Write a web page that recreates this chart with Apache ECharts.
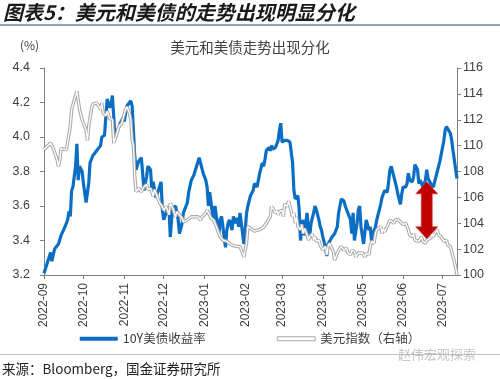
<!DOCTYPE html>
<html><head><meta charset="utf-8">
<script src="https://cdn.jsdelivr.net/npm/echarts@6/dist/echarts.min.js"></script>
<style>html,body{margin:0;padding:0;background:#fff}#c{width:500px;height:380px}</style>
</head><body><div id="c"></div>
<script>
// ---- data ----
const startDate = '2022-09-01';
const endDate = '2023-07-12';
const yLeftTicks = [3.2, 4.4, 0.2];   // min, max, step
const yRightTicks = [100, 116, 2];

// 10Y US Treasury yield (%), left axis
const ust10y = [
['2022-09-01',3.21],['2022-09-06',3.33],['2022-09-07',3.28],['2022-09-09',3.35],['2022-09-12',3.38],['2022-09-14',3.43],
['2022-09-17',3.48],['2022-09-19',3.52],['2022-09-20',3.57],['2022-09-21',3.54],['2022-09-22',3.69],['2022-09-23',3.71],
['2022-09-25',3.83],['2022-09-26',3.96],['2022-09-27',3.75],['2022-09-28',3.83],['2022-09-30',3.80],['2022-10-01',3.73],
['2022-10-03',3.62],['2022-10-05',3.73],['2022-10-06',3.85],['2022-10-08',3.89],['2022-10-11',3.92],['2022-10-14',3.95],
['2022-10-15',4.00],['2022-10-17',4.01],['2022-10-19',4.22],['2022-10-20',4.23],['2022-10-21',4.17],['2022-10-22',4.19],
['2022-10-23',4.24],['2022-10-24',4.12],['2022-10-25',3.99],['2022-10-27',4.04],['2022-10-29',4.08],['2022-10-31',4.11],
['2022-11-01',4.09],['2022-11-03',4.18],['2022-11-06',4.21],['2022-11-07',4.18],['2022-11-09',3.89],['2022-11-10',3.81],
['2022-11-12',3.86],['2022-11-14',3.88],['2022-11-15',3.79],['2022-11-16',3.69],['2022-11-18',3.77],['2022-11-19',3.83],
['2022-11-21',3.81],['2022-11-22',3.69],['2022-11-23',3.74],['2022-11-25',3.65],['2022-11-27',3.69],['2022-11-29',3.74],
['2022-11-30',3.58],['2022-12-01',3.52],['2022-12-03',3.56],['2022-12-05',3.60],['2022-12-06',3.42],['2022-12-07',3.52],
['2022-12-08',3.59],['2022-12-10',3.60],['2022-12-11',3.56],['2022-12-12',3.52],['2022-12-13',3.44],['2022-12-15',3.50],
['2022-12-16',3.56],['2022-12-19',3.62],['2022-12-20',3.68],['2022-12-22',3.75],['2022-12-24',3.78],['2022-12-26',3.83],
['2022-12-28',3.88],['2022-12-29',3.85],['2022-12-31',3.79],['2023-01-02',3.75],['2023-01-03',3.71],['2023-01-04',3.60],
['2023-01-05',3.68],['2023-01-07',3.56],['2023-01-08',3.52],['2023-01-09',3.60],['2023-01-10',3.54],['2023-01-12',3.44],
['2023-01-13',3.52],['2023-01-14',3.54],['2023-01-15',3.48],['2023-01-17',3.36],['2023-01-18',3.46],['2023-01-19',3.50],
['2023-01-20',3.52],['2023-01-22',3.46],['2023-01-23',3.54],['2023-01-24',3.50],['2023-01-26',3.53],['2023-01-27',3.48],
['2023-01-28',3.56],['2023-01-29',3.50],['2023-01-31',3.38],['2023-02-01',3.46],['2023-02-02',3.56],['2023-02-03',3.60],
['2023-02-05',3.66],['2023-02-06',3.65],['2023-02-07',3.69],['2023-02-08',3.73],['2023-02-10',3.71],['2023-02-11',3.75],
['2023-02-12',3.79],['2023-02-14',3.85],['2023-02-15',3.83],['2023-02-16',3.87],['2023-02-17',3.92],['2023-02-19',3.94],
['2023-02-20',3.92],['2023-02-21',3.95],['2023-02-22',3.93],['2023-02-24',3.94],['2023-02-25',3.95],['2023-02-26',3.98],
['2023-02-27',4.04],['2023-02-28',4.08],['2023-03-01',3.97],['2023-03-03',3.98],['2023-03-05',3.98],['2023-03-07',3.97],
['2023-03-08',3.97],['2023-03-09',3.85],['2023-03-10',3.69],['2023-03-11',3.64],['2023-03-13',3.66],['2023-03-14',3.58],
['2023-03-15',3.40],['2023-03-16',3.47],['2023-03-17',3.52],['2023-03-18',3.43],['2023-03-20',3.56],['2023-03-21',3.47],
['2023-03-22',3.42],['2023-03-23',3.50],['2023-03-25',3.56],['2023-03-26',3.60],['2023-03-27',3.58],['2023-03-29',3.52],
['2023-03-30',3.48],['2023-03-31',3.46],['2023-04-01',3.42],['2023-04-03',3.36],['2023-04-04',3.31],['2023-04-05',3.38],
['2023-04-06',3.39],['2023-04-08',3.42],['2023-04-09',3.43],['2023-04-10',3.44],['2023-04-12',3.48],['2023-04-13',3.56],
['2023-04-14',3.60],['2023-04-15',3.64],['2023-04-17',3.63],['2023-04-18',3.60],['2023-04-19',3.58],['2023-04-20',3.56],
['2023-04-22',3.52],['2023-04-23',3.44],['2023-04-24',3.56],['2023-04-25',3.40],['2023-04-27',3.50],['2023-04-28',3.58],
['2023-04-29',3.60],['2023-04-30',3.48],['2023-05-02',3.38],['2023-05-03',3.45],['2023-05-04',3.52],['2023-05-06',3.46],
['2023-05-07',3.48],['2023-05-08',3.40],['2023-05-09',3.44],['2023-05-11',3.48],['2023-05-12',3.52],['2023-05-13',3.55],
['2023-05-15',3.61],['2023-05-16',3.65],['2023-05-17',3.67],['2023-05-18',3.69],['2023-05-20',3.68],['2023-05-21',3.74],
['2023-05-22',3.81],['2023-05-23',3.83],['2023-05-25',3.77],['2023-05-26',3.74],['2023-05-27',3.71],['2023-05-28',3.67],
['2023-05-30',3.61],['2023-05-31',3.67],['2023-06-01',3.71],['2023-06-03',3.71],['2023-06-04',3.73],['2023-06-05',3.79],
['2023-06-06',3.75],['2023-06-08',3.74],['2023-06-09',3.77],['2023-06-10',3.84],['2023-06-12',3.81],['2023-06-13',3.73],
['2023-06-14',3.75],['2023-06-15',3.74],['2023-06-16',3.71],['2023-06-18',3.75],['2023-06-19',3.81],['2023-06-20',3.76],
['2023-06-22',3.73],['2023-06-23',3.74],['2023-06-24',3.71],['2023-06-25',3.71],['2023-06-27',3.80],['2023-06-28',3.83],
['2023-06-29',3.86],['2023-06-30',3.90],['2023-07-02',3.98],['2023-07-03',4.04],['2023-07-04',4.06],['2023-07-05',4.05],
['2023-07-07',4.02],['2023-07-08',3.98],['2023-07-09',3.92],['2023-07-11',3.81],['2023-07-12',3.76]
];

// US dollar index, right axis
const dxy = [
['2022-09-01',109.7],['2022-09-06',110.2],['2022-09-08',109.8],['2022-09-11',108.9],['2022-09-12',108.4],['2022-09-13',108.9],
['2022-09-14',109.8],['2022-09-16',109.7],['2022-09-18',109.7],['2022-09-19',109.8],['2022-09-21',111.5],['2022-09-22',112.8],
['2022-09-24',113.5],['2022-09-26',114.2],['2022-09-27',114.1],['2022-09-28',112.8],['2022-09-30',112.0],['2022-10-01',112.1],
['2022-10-03',111.2],['2022-10-04',110.4],['2022-10-05',111.5],['2022-10-07',112.8],['2022-10-08',113.2],['2022-10-11',113.3],
['2022-10-13',113.0],['2022-10-14',112.8],['2022-10-15',113.3],['2022-10-16',112.5],['2022-10-18',112.3],['2022-10-19',112.65],
['2022-10-21',112.1],['2022-10-23',112.0],['2022-10-24',110.2],['2022-10-26',110.8],['2022-10-28',111.5],['2022-10-30',111.7],
['2022-11-02',112.8],['2022-11-03',113.0],['2022-11-05',112.5],['2022-11-06',112.0],['2022-11-07',110.45],['2022-11-08',110.0],
['2022-11-09',107.6],['2022-11-10',106.45],['2022-11-12',106.7],['2022-11-14',106.45],['2022-11-16',106.8],['2022-11-18',107.0],
['2022-11-19',106.6],['2022-11-21',106.7],['2022-11-23',106.1],['2022-11-24',106.6],['2022-11-26',106.1],['2022-11-28',105.55],
['2022-11-30',105.3],['2022-12-01',105.0],['2022-12-03',105.3],['2022-12-05',104.65],['2022-12-06',105.55],['2022-12-08',105.15],
['2022-12-10',104.5],['2022-12-11',104.9],['2022-12-13',104.65],['2022-12-15',104.4],['2022-12-16',104.1],['2022-12-19',104.25],
['2022-12-20',104.4],['2022-12-22',104.5],['2022-12-24',104.5],['2022-12-25',104.65],['2022-12-27',104.5],['2022-12-29',104.25],
['2022-12-30',104.5],['2023-01-01',104.65],['2023-01-03',105.0],['2023-01-04',104.9],['2023-01-06',104.4],['2023-01-08',104.25],
['2023-01-10',103.75],['2023-01-12',103.2],['2023-01-13',102.95],['2023-01-15',102.7],['2023-01-18',102.6],['2023-01-20',102.45],
['2023-01-22',102.3],['2023-01-23',102.45],['2023-01-26',102.2],['2023-01-28',102.2],['2023-01-29',101.95],['2023-01-31',101.4],
['2023-02-01',101.95],['2023-02-02',102.45],['2023-02-03',103.75],['2023-02-05',103.6],['2023-02-08',103.4],['2023-02-12',103.5],
['2023-02-15',103.7],['2023-02-17',104.0],['2023-02-20',104.5],['2023-02-21',105.3],['2023-02-22',105.2],['2023-02-24',104.8],
['2023-02-25',105.0],['2023-02-26',104.65],['2023-02-27',104.9],['2023-03-01',105.0],['2023-03-02',104.5],['2023-03-03',105.5],
['2023-03-05',105.3],['2023-03-06',105.7],['2023-03-07',105.3],['2023-03-09',104.5],['2023-03-10',104.8],['2023-03-11',104.0],
['2023-03-12',104.5],['2023-03-13',103.75],['2023-03-15',103.5],['2023-03-16',103.9],['2023-03-17',103.2],['2023-03-18',103.6],
['2023-03-20',103.1],['2023-03-21',102.7],['2023-03-22',102.95],['2023-03-24',103.2],['2023-03-25',102.7],['2023-03-26',102.95],
['2023-03-27',102.6],['2023-03-29',102.7],['2023-03-30',102.3],['2023-03-31',102.2],['2023-04-01',101.95],['2023-04-03',102.2],
['2023-04-04',101.55],['2023-04-05',102.2],['2023-04-06',102.45],['2023-04-09',101.8],['2023-04-10',101.15],['2023-04-12',101.7],
['2023-04-13',101.9],['2023-04-15',102.2],['2023-04-17',101.9],['2023-04-18',101.8],['2023-04-19',102.1],['2023-04-20',101.7],
['2023-04-22',101.55],['2023-04-23',101.9],['2023-04-25',101.8],['2023-04-26',101.4],['2023-04-28',101.7],['2023-04-29',101.8],
['2023-05-01',101.7],['2023-05-03',101.4],['2023-05-04',101.7],['2023-05-06',101.55],['2023-05-07',102.2],['2023-05-08',102.6],
['2023-05-10',102.45],['2023-05-11',103.2],['2023-05-12',103.5],['2023-05-13',103.5],['2023-05-15',103.75],['2023-05-16',103.2],
['2023-05-17',103.6],['2023-05-18',103.35],['2023-05-20',103.75],['2023-05-21',104.0],['2023-05-22',104.25],['2023-05-23',104.1],
['2023-05-25',104.0],['2023-05-26',104.25],['2023-05-27',104.1],['2023-05-28',104.3],['2023-05-30',104.1],['2023-05-31',104.0],
['2023-06-01',103.9],['2023-06-03',104.0],['2023-06-04',103.75],['2023-06-05',103.5],['2023-06-06',103.1],['2023-06-08',102.95],
['2023-06-09',103.2],['2023-06-10',102.7],['2023-06-11',102.85],['2023-06-13',102.6],['2023-06-14',102.7],['2023-06-15',102.95],
['2023-06-16',102.6],['2023-06-18',102.45],['2023-06-19',102.7],['2023-06-20',102.6],['2023-06-22',102.85],['2023-06-23',103.2],
['2023-06-24',102.95],['2023-06-25',103.2],['2023-06-27',103.5],['2023-06-28',103.1],['2023-06-29',103.2],['2023-06-30',102.95],
['2023-07-02',102.6],['2023-07-03',102.45],['2023-07-04',102.7],['2023-07-05',102.3],['2023-07-07',102.2],['2023-07-08',101.8],
['2023-07-09',101.4],['2023-07-11',100.6],['2023-07-12',100.0]
];

// divergence arrow (date, from/to on left axis)
const arrowDate = '2023-06-19';
const arrowEnds = [3.41, 3.74];

const seriesNames = ['10Y美债收益率', '美元指数（右轴）'];
const chartTitle = '美元和美债走势出现分化';
const figureTitle = '图表5：美元和美债的走势出现明显分化';
const sourceText = '来源：Bloomberg，国金证券研究所';
const unitText = '(%)';
const watermark = '赵伟宏观探索';

// ---- build categories (every calendar day) ----
const categories = [];
(function(){
  let t = Date.parse(startDate + 'T00:00:00Z');
  const end = Date.parse(endDate + 'T00:00:00Z');
  while (t <= end) { categories.push(new Date(t).toISOString().slice(0,10)); t += 86400000; }
})();
const isMonthStart = (i, v) => v.slice(8) === '01';

const FONT = "'Liberation Sans','Noto Sans CJK SC',sans-serif";
const CJK = "'Noto Sans CJK SC',sans-serif";
const BLUE = '#0A6EC4', GREY = '#A8A8A8', AXIS = '#808080', TXT = '#404040';

const chart = echarts.init(document.getElementById('c'), null, {renderer: 'canvas'});

function textGraphics(extra) {
  return [
    {id:'hdr', type:'text', left:3, top:2, style:{text:figureTitle, fill:'#1a1a1a', font:"italic bold 20px " + CJK}},
    {id:'hline', type:'rect', shape:{x:0, y:24, width:500, height:2}, style:{fill:'#8EA6C0'}},
    {id:'unit', type:'text', left:20, top:39, style:{text:unitText, fill:TXT, font:"12px " + CJK}},
    {id:'bline', type:'rect', shape:{x:0, y:354, width:500, height:1}, style:{fill:'#B8C4D0'}},
    {id:'src', type:'text', left:2, top:362, style:{text:sourceText, fill:'#222', font:"13.5px " + CJK}},
    {id:'wm', type:'text', left:398, top:348, style:{text:watermark, fill:'rgba(150,150,150,0.55)', font:"13px " + CJK}}
  ].concat(extra || []);
}

const option = {
  animation: false,
  backgroundColor: '#fff',
  title: {text: chartTitle, left: 'center', top: 35,
    textStyle: {fontFamily: CJK, fontSize: 14.5, fontWeight: 'normal', color: TXT}},
  grid: {left: 44, right: 43, top: 68, bottom: 105},
  legend: {
    bottom: 30, left: 'center', itemWidth: 38, itemHeight: 4, itemGap: 71,
    textStyle: {fontFamily: CJK, fontSize: 12.5, color: TXT},
    data: [
      {name: seriesNames[0], icon: 'rect', itemStyle: {color: BLUE, borderWidth: 0}},
      {name: seriesNames[1], icon: 'rect', itemStyle: {color: '#fff', borderColor: GREY, borderWidth: 1}}
    ]
  },
  xAxis: {
    type: 'category', data: categories, boundaryGap: false,
    axisLine: {lineStyle: {color: AXIS, width: 1}},
    axisTick: {interval: isMonthStart, length: 4, lineStyle: {color: AXIS}},
    axisLabel: {interval: isMonthStart, rotate: 90, margin: 8, color: TXT,
      fontFamily: FONT, fontSize: 12, formatter: v => v.slice(0,7)},
    splitLine: {show: false}
  },
  yAxis: [
    {type: 'value', min: yLeftTicks[0], max: yLeftTicks[1], interval: yLeftTicks[2],
     axisLine: {show: true, lineStyle: {color: AXIS}},
     axisTick: {show: true, length: 4, lineStyle: {color: AXIS}},
     axisLabel: {color: TXT, fontFamily: FONT, fontSize: 12.5, margin: 14, formatter: v => v.toFixed(1)},
     splitLine: {show: false}},
    {type: 'value', min: yRightTicks[0], max: yRightTicks[1], interval: yRightTicks[2],
     axisLine: {show: true, lineStyle: {color: AXIS}},
     axisTick: {show: true, length: 4, lineStyle: {color: AXIS}},
     axisLabel: {color: TXT, fontFamily: FONT, fontSize: 12.5, margin: 6},
     splitLine: {show: false}}
  ],
  series: [
    {name: seriesNames[0], type: 'line', yAxisIndex: 0, data: ust10y, showSymbol: false, symbol: 'none',
     lineStyle: {color: BLUE, width: 3.2}, itemStyle: {color: BLUE}, z: 2},
    {name: seriesNames[1], type: 'line', yAxisIndex: 1, data: dxy, showSymbol: false, symbol: 'none',
     lineStyle: {color: GREY, width: 3.4}, itemStyle: {color: GREY}, z: 3},
    {name: 'dxyInner', type: 'line', yAxisIndex: 1, data: dxy, showSymbol: false, symbol: 'none',
     lineStyle: {color: '#ffffff', width: 1.3}, itemStyle: {color: '#fff'}, z: 4, silent: true}
  ],
  graphic: textGraphics()
};
chart.setOption(option);

// arrow annotation placed through the axes
(function(){
  const idx = categories.indexOf(arrowDate);
  const pb = chart.convertToPixel({xAxisIndex: 0, yAxisIndex: 0}, [idx, arrowEnds[0]]);
  const pt = chart.convertToPixel({xAxisIndex: 0, yAxisIndex: 0}, [idx, arrowEnds[1]]);
  const x = pt[0], y1 = pt[1], y2 = pb[1], hw = 11, hh = 12, sw = 5.5;
  const pts = [[x,y1],[x+hw,y1+hh],[x+sw,y1+hh],[x+sw,y2-hh],[x+hw,y2-hh],[x,y2],
               [x-hw,y2-hh],[x-sw,y2-hh],[x-sw,y1+hh],[x-hw,y1+hh]];
  chart.setOption({graphic: textGraphics([
    {id:'arrow', type:'polygon', z: 100, shape:{points: pts}, style:{fill:'#C00000', stroke:'#D23030', lineWidth:0.6}}
  ])});
})();
</script>
</body></html>
